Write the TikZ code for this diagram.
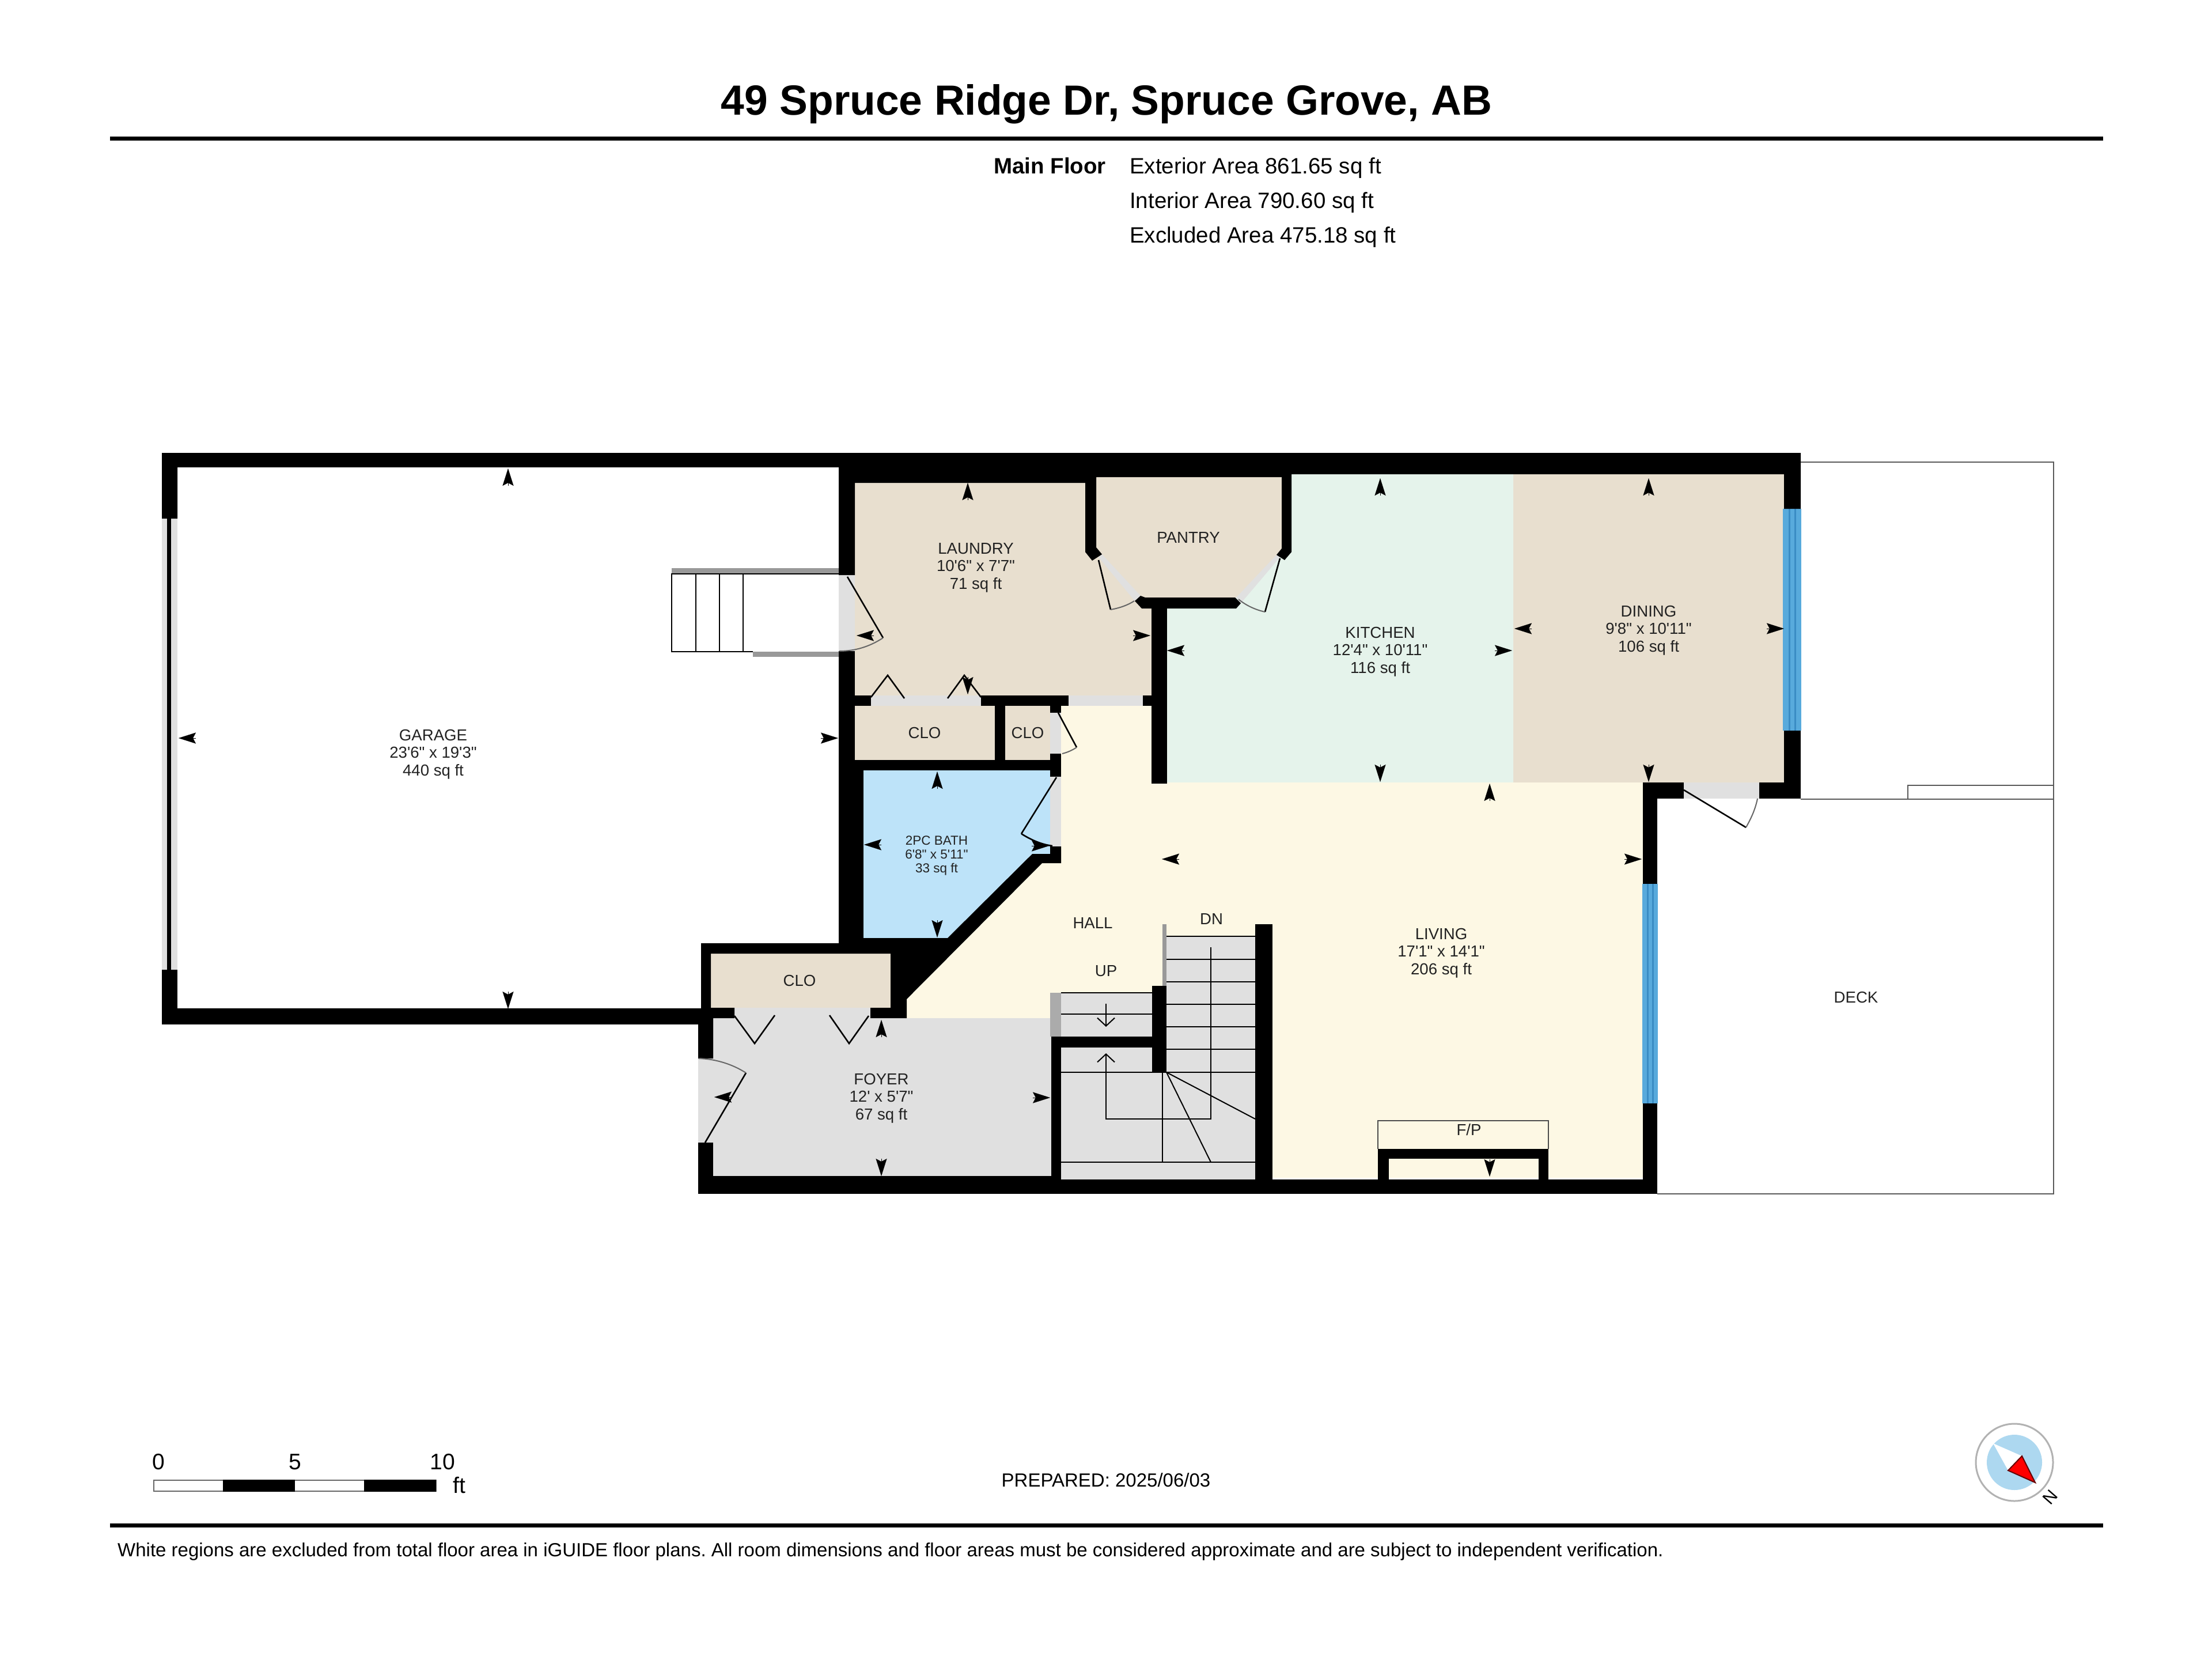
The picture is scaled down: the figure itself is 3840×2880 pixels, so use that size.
\documentclass[tikz,border=0pt]{standalone}
\usepackage{xcolor}
\usepackage{fontspec}
\setmainfont{Liberation Sans}[Ligatures=TeXOff]
\definecolor{roombeige}{RGB}{232,223,207}
\definecolor{roomgreen}{RGB}{229,243,235}
\definecolor{roomblue}{RGB}{189,227,249}
\definecolor{roomcream}{RGB}{253,248,228}
\definecolor{roomgray}{RGB}{224,224,224}
\definecolor{windowblue}{RGB}{88,170,220}
\definecolor{windowline}{RGB}{58,140,196}
\definecolor{compassblue}{RGB}{173,216,240}
\definecolor{labelgray}{RGB}{34,34,34}
\usetikzlibrary{arrows.meta}
\tikzset{
    label-common/.style={inner sep=0pt, text=labelgray, align=center},
    room/.style={label-common, font=\fontsize{27.6}{30.5}\selectfont},
    room-small/.style={label-common, font=\fontsize{22.5}{24}\selectfont},
    header/.style={inner sep=0pt, text=black, font=\fontsize{38.5}{40}\selectfont},
    footer/.style={inner sep=0pt, text=black, font=\fontsize{33}{34}\selectfont},
    scale-num/.style={inner sep=0pt, text=black, font=\fontsize{39}{40}\selectfont},
    wall/.style={fill=black},
    opening/.style={fill=roomgray},
    door/.style={draw=black, line width=2.6pt},
    swing/.style={draw=black!60, line width=2pt},
    tread/.style={draw=black, line width=2pt},
    outline/.style={draw=black!65, line width=2.6pt},
    glass-line/.style={draw=windowline, line width=3pt},
    dim-tip/.style={-{Stealth[length=30pt, width=19pt, inset=5pt]}, line width=0.2pt, draw=black, fill=black},
    barb/.style={-{Straight Barb[length=14pt, width=30pt]}, tread}
}

\begin{document}
\frenchspacing
\begin{tikzpicture}[x=1pt, y=-1pt]
    \useasboundingbox (0,0) rectangle (3840,2880);

    % floors
    \fill[roombeige] (1484,838) -- (1884,838) -- (1903,950) -- (1982,1037) -- (1999,1056) -- (1999,1207) -- (1484,1207) -- cycle;
    \fill[roombeige] (1903,828) -- (2225,828) -- (2225,958) -- (2146,1037) -- (1982,1037) -- (1903,958) -- cycle;
    \fill[roombeige] (2627,823) rectangle (3097,1358);
    \fill[roombeige] (1484,1225) rectangle (1823,1319);
    \fill[roombeige] (1234,1655) rectangle (1546,1749);
    \fill[roomgreen] (2242,823) -- (2627,823) -- (2627,1358) -- (2026,1358) -- (2026,1056) -- (2146,1056) -- (2146,1037) -- (2225,958) -- (2242,958) -- cycle;
    \fill[roomblue] (1499,1337) -- (1823,1337) -- (1823,1482) -- (1792,1482) -- (1645,1628) -- (1499,1628) -- cycle;
    \fill[roomcream] (1842,1225) -- (2026,1225) -- (2026,1358) -- (2852,1358) -- (2852,2044) -- (1825,2044) -- (1825,1767) -- (1574,1767) -- (1574,1734) -- (1809,1498) -- (1842,1498) -- cycle;
    \fill[roomgray] (1238,1767) rectangle (1825,2041);

    % door openings and windows
    \foreach \xa/\ya/\xb/\yb in {1456/998/1484/1130, 1512/1207/1703/1225, 1855/1207/1984/1225,
                                 1823/1237/1842/1308, 1823/1348/1842/1469, 1275/1749/1511/1767,
                                 1212/1837/1238/1983, 2923/1358/3054/1386, 281/900/308/1683}
        \fill[opening] (\xa,\ya) rectangle (\xb,\yb);
    \fill[opening] (1907,967) -- (1913,962) -- (1980,1034) -- (1970,1043) -- cycle;
    \fill[opening] (2222,967) -- (2216,963) -- (2146,1037) -- (2154,1047) -- cycle;
    \fill[windowblue] (3095,883) rectangle (3127,1268);
    \fill[windowblue] (2851,1534) rectangle (2878,1915);
    \foreach \x in {3106,3116}
        \draw[glass-line] (\x,883) -- (\x,1268);
    \foreach \x in {2860,2869}
        \draw[glass-line] (\x,1534) -- (\x,1915);

    % stairs
    \fill[roomgray] (2025,1625) rectangle (2179,2047);
    \fill[roomgray] (1842,1818) rectangle (2179,2047);
    \fill[roomgray] (1842,1723) rectangle (2000,1799);
    \fill[black!33] (1823,1723) rectangle (1842,1799);
    \fill[black!40] (2018,1604) rectangle (2025,1712);
    \foreach \y in {1625,1665,1704,1743,1782,1821,1861}
        \draw[tread] (2025,\y) -- (2179,\y);
    \draw[tread] (1842,1861) -- (2025,1861);
    \draw[tread] (1842,2017) -- (2179,2017);
    \draw[tread] (2018,1861) -- (2018,2017);
    \draw[tread] (2025,1861) -- (2102,2017);
    \draw[tread] (2025,1861) -- (2179,1942);
    \draw[tread] (1842,1723) -- (2000,1723);
    \draw[tread] (1842,1760) -- (2000,1760);
    \draw[barb] (2102,1644) -- (2102,1942) -- (1920,1942) -- (1920,1828);
    \draw[barb] (1920,1742) -- (1920,1782);

    % walls
    \fill[wall] (281,786) -- (3126,786) -- (3126,883) -- (3097,883) -- (3097,823) -- (2242,823) -- (2242,958) -- (2230,972) -- (2216,963) -- (2225,952)
        -- (2225,828) -- (1903,828) -- (1903,950) -- (1913,962) -- (1896,973) -- (1884,958) -- (1884,838) -- (1484,838) -- (1484,998) -- (1456,998) -- (1456,811)
        -- (308,811) -- (308,900) -- (281,900) -- cycle;
    \fill[wall] (1842,1469) -- (1842,1498) -- (1809,1498) -- (1574,1734) -- (1574,1767) -- (1511,1767) -- (1511,1749) -- (1546,1749) -- (1546,1655) -- (1234,1655)
        -- (1234,1749) -- (1275,1749) -- (1275,1767) -- (1238,1767) -- (1238,1837) -- (1212,1837) -- (1212,1778) -- (1217,1778) -- (1217,1637) -- (1499,1637) -- (1499,1628)
        -- (1645,1628) -- (1792,1482) -- (1823,1482) -- (1823,1469) -- cycle;
    \fill[wall] (1980,1034) -- (1988,1037) -- (2144,1037) -- (2154,1047) -- (2146,1056) -- (1982,1056) -- (1970,1043) -- cycle;
    \foreach \xa/\ya/\xb/\yb in {281/1683/308/1778, 281/1750/1217/1778, 1456/1130/1484/1345, 1456/1319/1499/1640,
                                 1484/1207/1512/1225, 1703/1207/1855/1225, 1984/1207/1999/1225, 1727/1225/1745/1319,
                                 1823/1225/1842/1237, 1484/1319/1842/1337, 1823/1308/1842/1348, 1999/1056/2026/1360,
                                 1212/1983/1238/2072, 1212/2041/1825/2072, 1825/1799/1842/2072, 1825/1799/2000/1818,
                                 2000/1711/2025/1861, 1825/2047/2877/2072, 2179/1604/2209/2072, 2852/1358/2877/1534,
                                 2852/1915/2877/2072, 2852/1358/2923/1386, 3054/1358/3126/1386, 3097/1268/3126/1386,
                                 2392/1994/2688/2011, 2392/1994/2411/2050, 2671/1994/2688/2050, 290/900/297/1683}
        \fill[wall] (\xa,\ya) rectangle (\xb,\yb);

    % doors
    \draw[door] (1471,1001) -- (1533,1107);
    \draw[swing] (1533,1107) .. controls (1510,1122) and (1485,1130) .. (1457,1130);
    \draw[door] (1512,1210) -- (1541,1172) -- (1570,1212);
    \draw[door] (1645,1212) -- (1674,1172) -- (1703,1210);
    \draw[door] (1837,1237) -- (1869,1297);
    \draw[swing] (1869,1297) .. controls (1860,1303) and (1852,1306) .. (1844,1308);
    \draw[door] (1907,972) -- (1928,1058);
    \draw[swing] (1928,1058) .. controls (1945,1055) and (1958,1050) .. (1969,1043);
    \draw[door] (2222,969) -- (2196,1062);
    \draw[swing] (2196,1062) .. controls (2178,1058) and (2162,1050) .. (2150,1040);
    \draw[door] (1834,1349) -- (1773,1447);
    \draw[door] (1773,1447) .. controls (1792,1459) and (1810,1466) .. (1827,1468);
    \draw[door] (1275,1763) -- (1310,1811) -- (1345,1762);
    \draw[door] (1440,1762) -- (1474,1811) -- (1508,1763);
    \draw[door] (1224,1983) -- (1295,1862);
    \draw[swing] (1295,1862) .. controls (1273,1848) and (1245,1838) .. (1213,1837);
    \draw[door] (2923,1371) -- (3031,1436);
    \draw[swing] (3031,1436) .. controls (3040,1420) and (3047,1405) .. (3051,1386);

    % garage steps
    \fill[black!40] (1166,986) rectangle (1456,996);
    \fill[black!40] (1307,1131) rectangle (1456,1140);
    \draw[tread] (1456,996) -- (1166,996) -- (1166,1131) -- (1307,1131);
    \foreach \x in {1208,1249,1290}
        \draw[tread] (\x,996) -- (\x,1131);

    % fireplace
    \draw[tread, draw=black!70] (2392,1994) -- (2392,1945) -- (2688,1945) -- (2688,1994);

    % deck
    \draw[outline] (3126,802) -- (3565,802) -- (3565,2072) -- (2877,2072);
    \draw[outline] (3126,1387) -- (3565,1387);
    \draw[outline] (3312,1387) -- (3312,1363) -- (3565,1363);

    % dimension tips
    \foreach \x/\y in {882/828, 1680/853, 1627/1354, 2396/845, 2862/845, 2586/1375, 1530/1785}
        \draw[dim-tip] (\x,\y+15) -- (\x,\y-15);
    \foreach \x/\y in {882/1736, 1680/1190, 1627/1612, 2396/1342, 2862/1342, 1530/2026, 2586/2027}
        \draw[dim-tip] (\x,\y-15) -- (\x,\y+15);
    \foreach \x/\y in {325/1281, 1502/1103, 1515/1466, 2041/1129, 2644/1091, 2032/1491, 1255/1904}
        \draw[dim-tip] (\x+15,\y) -- (\x-15,\y);
    \foreach \x/\y in {1440/1281, 1982/1103, 1806/1468, 2610/1129, 3082/1091, 2835/1491, 1808/1905}
        \draw[dim-tip] (\x-15,\y) -- (\x+15,\y);

    % room labels
    \node[room] (garage-label) at (752,1309) {GARAGE\\23'6" x 19'3"\\440 sq ft};
    \node[room] (laundry-label) at (1694,985) {LAUNDRY\\10'6" x 7'7"\\71 sq ft};
    \node[room] (pantry-label) at (2063,933) {PANTRY};
    \node[room] (kitchen-label) at (2396,1131) {KITCHEN\\12'4" x 10'11"\\116 sq ft};
    \node[room] (dining-label) at (2862,1094) {DINING\\9'8" x 10'11"\\106 sq ft};
    \node[room] (clo-left-label) at (1605,1272) {CLO};
    \node[room] (clo-right-label) at (1784,1272) {CLO};
    \node[room] (clo-foyer-label) at (1388,1702) {CLO};
    \node[room-small] (bath-label) at (1626,1485) {2PC BATH\\6'8" x 5'11"\\33 sq ft};
    \node[room] (foyer-label) at (1530,1906) {FOYER\\12' x 5'7"\\67 sq ft};
    \node[room] (hall-label) at (1897,1602) {HALL};
    \node[room] (dn-label) at (2103,1595) {DN};
    \node[room] (up-label) at (1920,1685) {UP};
    \node[room] (living-label) at (2502,1654) {LIVING\\17'1" x 14'1"\\206 sq ft};
    \node[room] (fp-label) at (2550,1961) {F/P};
    \node[room] (deck-label) at (3222,1731) {DECK};

    % header
    \node[inner sep=0pt, anchor=base, font=\fontsize{73.2}{75}\selectfont\bfseries] (title) at (1921,199) {49 Spruce Ridge Dr, Spruce Grove, AB};
    \fill[black] (191,237) rectangle (3651,244);
    \node[header, anchor=base east, font=\fontsize{38.5}{40}\selectfont\bfseries] (floor-name) at (1920,301) {Main Floor};
    \node[header, anchor=base west] (area-exterior) at (1961,301) {Exterior Area 861.65 sq ft};
    \node[header, anchor=base west] (area-interior) at (1961,361) {Interior Area 790.60 sq ft};
    \node[header, anchor=base west] (area-excluded) at (1961,421) {Excluded Area 475.18 sq ft};

    % scale bar
    \draw[draw=black!60, line width=2pt, fill=white] (267,2569) rectangle (757,2588);
    \fill[black] (387,2568) rectangle (512,2589);
    \fill[black] (632,2568) rectangle (757,2589);
    \node[scale-num] (scale-0) at (275,2537) {0};
    \node[scale-num] (scale-5) at (512,2537) {5};
    \node[scale-num] (scale-10) at (768,2537) {10};
    \node[scale-num] (scale-ft) at (797,2578) {ft};

    \node[footer] (prepared) at (1920,2569) {PREPARED: 2025/06/03};

    % compass
    \draw[draw=black!30, line width=3pt, fill=white] (3497,2538) circle (67);
    \fill[compassblue] (3497,2538) circle (48);
    \fill[white] (3460,2505) -- (3510,2527) -- (3486,2552) -- cycle;
    \draw[draw=red!40!black, line width=2pt, fill=red] (3510,2527) -- (3486,2552) -- (3533,2573) -- cycle;
    \node[scale-num, rotate=-131, font=\fontsize{30}{32}\selectfont] (compass-n) at (3559,2598) {N};

    % footer
    \fill[black] (191,2644) rectangle (3651,2651);
    \node[footer, anchor=west] (disclaimer) at (204,2693) {White regions are excluded from total floor area in iGUIDE floor plans. All room dimensions and floor areas must be considered approximate and are subject to independent verification.};
\end{tikzpicture}
\end{document}
